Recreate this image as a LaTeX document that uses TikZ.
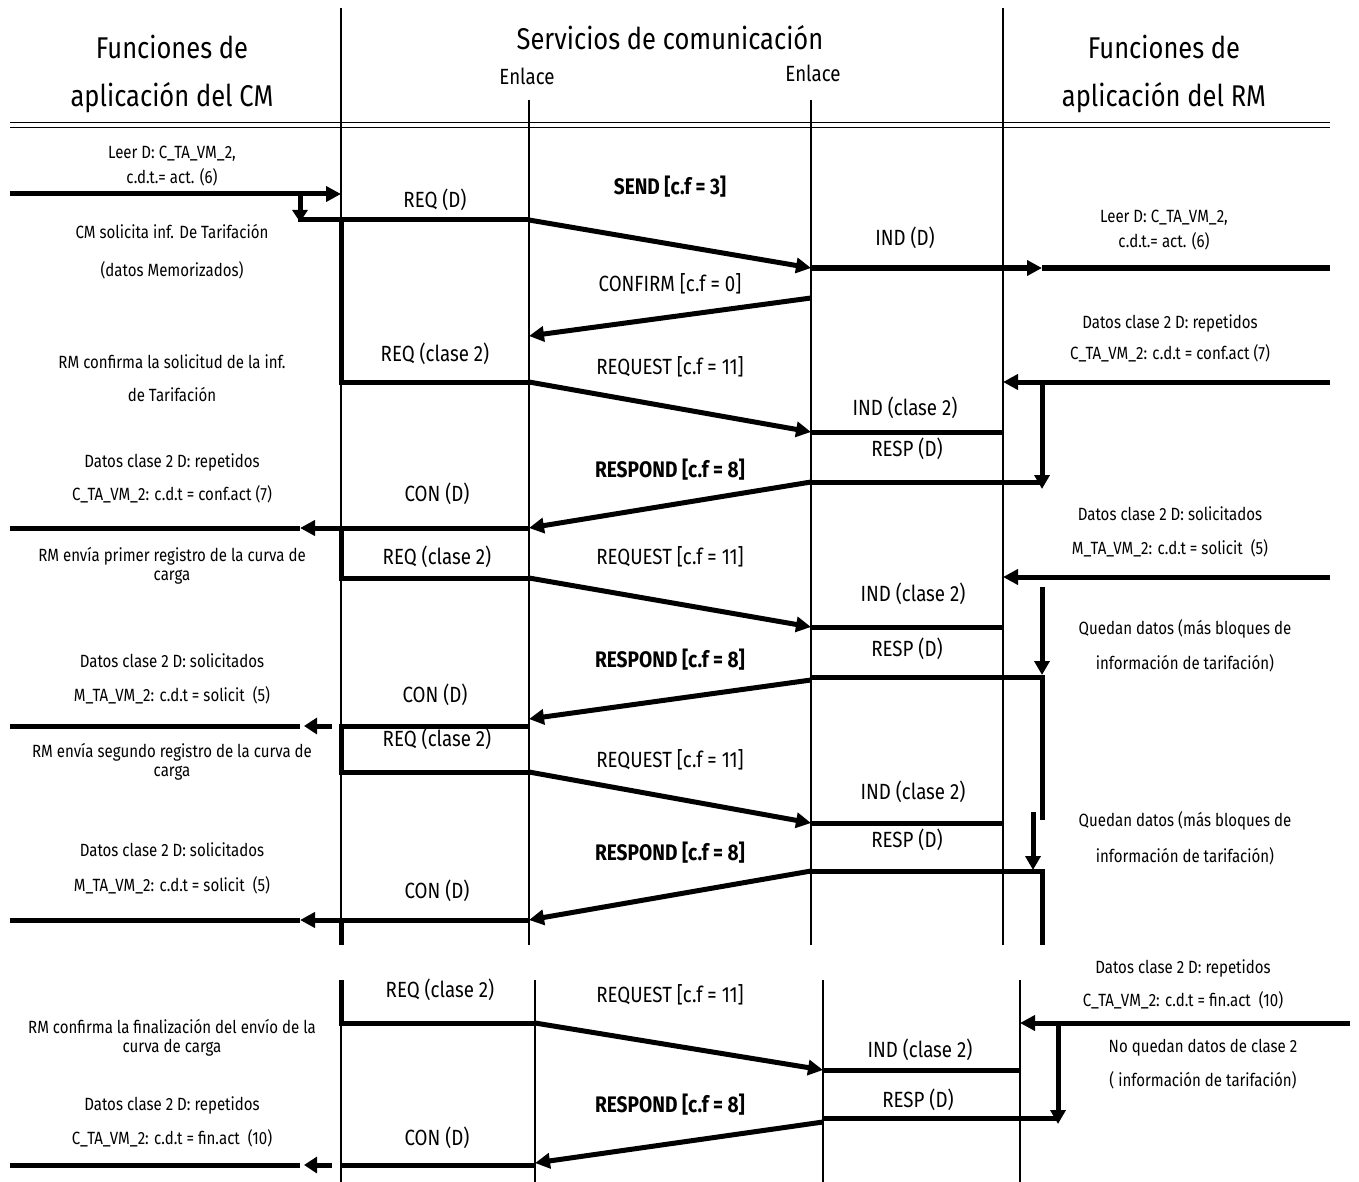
\documentclass[tikz,border=0pt]{standalone}
\usepackage{fontspec}
\setmainfont{Fira Sans}[FakeStretch=0.85]
\usetikzlibrary{arrows.meta}
\begin{document}
\begin{tikzpicture}[x=1pt,y=-1pt,
  thinline/.style={line width=1.5pt},
  bigline/.style={line width=5pt},
  arr/.style={bigline,-{Triangle[length=15pt,width=15pt]}},
  sarr/.style={bigline,-{Triangle[length=13pt,width=16pt]}},
  lab/.style={inner sep=0pt,font=\fontsize{22}{26}\selectfont},
  blab/.style={inner sep=0pt,font=\fontsize{22.5}{26}\selectfont\bfseries},
  txt/.style={inner sep=0pt,font=\fontsize{17.7}{21}\selectfont},
  head/.style={inner sep=0pt,font=\fontsize{30}{36}\selectfont}]
\useasboundingbox (0,0) rectangle (1359,1182);
% ---------- frame ----------
\coordinate (vLt) at (341,8);   \coordinate (vLb) at (341,945);
\coordinate (vRt) at (1003,8);  \coordinate (vRb) at (1003,945);
\coordinate (e1t) at (529,100); \coordinate (e1b) at (529,945);
\coordinate (e2t) at (811,100); \coordinate (e2b) at (811,945);
\draw[thinline] (vLt) -- (vLb);
\draw[thinline] (vRt) -- (vRb);
\draw[thinline] (e1t) -- (e1b);
\draw[thinline] (e2t) -- (e2b);
\coordinate (d1a) at (10,122.5); \coordinate (d1b) at (1330,122.5);
\coordinate (d2a) at (10,127.5); \coordinate (d2b) at (1330,127.5);
\draw[line width=1.5pt] (d1a) -- (d1b);
\draw[line width=1.5pt] (d2a) -- (d2b);
% bottom frame
\coordinate (bLt) at (341,980);  \coordinate (bLb) at (341,1182);
\coordinate (b1t) at (535,980);  \coordinate (b1b) at (535,1182);
\coordinate (b2t) at (823,980);  \coordinate (b2b) at (823,1182);
\coordinate (bRt) at (1020,980); \coordinate (bRb) at (1020,1182);
\draw[thinline] (bLt) -- (bLb);
\draw[thinline] (b1t) -- (b1b);
\draw[thinline] (b2t) -- (b2b);
\draw[thinline] (bRt) -- (bRb);
% ---------- headers ----------
\node[head] (h1) at (172,47) {Funciones de};
\node[head] (h2) at (172,98) {aplicación del CM};
\node[head] (h3) at (670,38) {Servicios de comunicación};
\node[lab]  (h4) at (527,76) {Enlace};
\node[lab]  (h5) at (813,73) {Enlace};
\node[head] (h6) at (1164,47) {Funciones de};
\node[head] (h7) at (1164,98) {aplicación del RM};
% ---------- row 1 ----------
\coordinate (r1a) at (10,194);   \coordinate (r1b) at (341,194);
\draw[arr] (r1a) -- (r1b);
\coordinate (r1c) at (300,192);  \coordinate (r1d) at (300,222);
\draw[bigline,-{Triangle[length=12pt,width=15pt]}] (r1c) -- (r1d);
\coordinate (q1a) at (298,220);  \coordinate (q1b) at (529,220);
\draw[bigline] (q1a) -- (q1b);
\coordinate (k1a) at (341,220);  \coordinate (k1b) at (341,382);
\draw[bigline] (k1a) -- (k1b);
\coordinate (s1b) at (811,268);
\draw[arr] (q1b) -- (s1b);
\coordinate (i1b) at (1042,268); \coordinate (i1c) at (1330,268);
\draw[arr] (s1b) -- (i1b);
\draw[bigline] (i1b) -- (i1c);
\coordinate (c1a) at (811,298);  \coordinate (c1b) at (529,336);
\draw[arr] (c1a) -- (c1b);
% ---------- row 2 ----------
\coordinate (q2a) at (338.5,382); \coordinate (q2b) at (529,382);
\draw[bigline] (q2a) -- (q2b);
\coordinate (s2b) at (811,432);
\draw[arr] (q2b) -- (s2b);
\coordinate (p2a) at (1330,382); \coordinate (p2b) at (1003,382);
\draw[arr] (p2a) -- (p2b);
\coordinate (dn2a) at (1042,382); \coordinate (dn2b) at (1042,489);
\draw[bigline,-{Triangle[length=14pt,width=15pt]}] (dn2a) -- (dn2b);
\coordinate (n2a) at (811,432); \coordinate (n2b) at (1003,432);
\draw[bigline] (n2a) -- (n2b);
\coordinate (rs2a) at (811,482); \coordinate (rs2b) at (1042,482);
\draw[bigline] (rs2a) -- (rs2b);
\coordinate (c2b) at (529,528);
\draw[arr] (rs2a) -- (c2b);
\coordinate (o2b) at (300,528); \coordinate (o2c) at (10,528);
\draw[arr] (c2b) -- (o2b);
\draw[bigline] (o2b) -- (o2c);
% ---------- row 3 ----------
\coordinate (k3a) at (341,528);  \coordinate (k3b) at (341,578);
\draw[bigline] (k3a) -- (k3b);
\coordinate (q3a) at (338.5,578); \coordinate (q3b) at (529,578);
\draw[bigline] (q3a) -- (q3b);
\coordinate (s3b) at (811,627);
\draw[arr] (q3b) -- (s3b);
\coordinate (p3a) at (1330,577); \coordinate (p3b) at (1003,577);
\draw[arr] (p3a) -- (p3b);
\coordinate (dn3a) at (1042,587); \coordinate (dn3b) at (1042,675);
\draw[bigline,-{Triangle[length=14pt,width=15pt]}] (dn3a) -- (dn3b);
\coordinate (n3a) at (811,627); \coordinate (n3b) at (1003,627);
\draw[bigline] (n3a) -- (n3b);
\coordinate (rs3a) at (811,677); \coordinate (rs3b) at (1044.5,677);
\draw[bigline] (rs3a) -- (rs3b);
\coordinate (v3a) at (1042,675); \coordinate (v3b) at (1042,820);
\draw[bigline] (v3a) -- (v3b);
\coordinate (c3a) at (811,680); \coordinate (c3b) at (529,719);
\draw[arr] (c3a) -- (c3b);
\coordinate (o3a) at (529,726); \coordinate (o3b) at (338.5,726);
\draw[bigline] (o3a) -- (o3b);
\coordinate (o3c) at (332,726); \coordinate (o3d) at (304,726);
\draw[sarr] (o3c) -- (o3d);
\coordinate (o3e) at (300,726); \coordinate (o3f) at (10,726);
\draw[bigline] (o3e) -- (o3f);
% ---------- row 4 ----------
\coordinate (k4a) at (341,726);  \coordinate (k4b) at (341,772);
\draw[bigline] (k4a) -- (k4b);
\coordinate (q4a) at (338.5,772); \coordinate (q4b) at (529,772);
\draw[bigline] (q4a) -- (q4b);
\coordinate (s4b) at (811,823);
\draw[arr] (q4b) -- (s4b);
\coordinate (n4a) at (811,823); \coordinate (n4b) at (1003,823);
\draw[bigline] (n4a) -- (n4b);
\coordinate (dn4a) at (1033,812); \coordinate (dn4b) at (1033,870);
\draw[bigline,-{Triangle[length=14pt,width=15pt]}] (dn4a) -- (dn4b);
\coordinate (rs4a) at (811,871); \coordinate (rs4b) at (1044.5,871);
\draw[bigline] (rs4a) -- (rs4b);
\coordinate (v4a) at (1042,869); \coordinate (v4b) at (1042,945);
\draw[bigline] (v4a) -- (v4b);
\coordinate (c4b) at (529,920);
\draw[arr] (rs4a) -- (c4b);
\coordinate (o4b) at (300,920); \coordinate (o4c) at (10,920);
\draw[arr] (c4b) -- (o4b);
\draw[bigline] (o4b) -- (o4c);
\coordinate (k4c) at (341,920); \coordinate (k4d) at (341,945);
\draw[bigline] (k4c) -- (k4d);
% ---------- bottom section ----------
\coordinate (k5a) at (341,980);  \coordinate (k5b) at (341,1023);
\draw[bigline] (k5a) -- (k5b);
\coordinate (q5a) at (338.5,1023); \coordinate (q5b) at (535,1023);
\draw[bigline] (q5a) -- (q5b);
\coordinate (s5b) at (823,1070);
\draw[arr] (q5b) -- (s5b);
\coordinate (n5a) at (823,1070); \coordinate (n5b) at (1020,1070);
\draw[bigline] (n5a) -- (n5b);
\coordinate (p5a) at (1350,1023); \coordinate (p5b) at (1020,1023);
\draw[arr] (p5a) -- (p5b);
\coordinate (dn5a) at (1058,1023); \coordinate (dn5b) at (1058,1124);
\draw[bigline,-{Triangle[length=14pt,width=15pt]}] (dn5a) -- (dn5b);
\coordinate (rs5a) at (823,1118); \coordinate (rs5b) at (1056,1118);
\draw[bigline] (rs5a) -- (rs5b);
\coordinate (c5a) at (823,1122); \coordinate (c5b) at (535,1163);
\draw[arr] (c5a) -- (c5b);
\coordinate (o5a) at (535,1165); \coordinate (o5b) at (341,1165);
\draw[bigline] (o5a) -- (o5b);
\coordinate (o5c) at (332,1165); \coordinate (o5d) at (304,1165);
\draw[sarr] (o5c) -- (o5d);
\coordinate (o5e) at (300,1165); \coordinate (o5f) at (10,1165);
\draw[bigline] (o5e) -- (o5f);
% ---------- middle labels ----------
\node[lab]  (m1)  at (435,200)  {REQ (D)};
\node[blab] (m2)  at (670,187)  {SEND [c.f = 3]};
\node[lab]  (m3)  at (905,238)  {IND (D)};
\node[lab]  (m4)  at (670,284)  {CONFIRM [c.f = 0]};
\node[lab]  (m5)  at (435,354)  {REQ (clase 2)};
\node[lab]  (m6)  at (670,367)  {REQUEST [c.f = 11]};
\node[lab]  (m7)  at (905,408)  {IND (clase 2)};
\node[lab]  (m8)  at (907,449)  {RESP (D)};
\node[blab] (m9)  at (670,470)  {RESPOND [c.f = 8]};
\node[lab]  (m10) at (437,494)  {CON (D)};
\node[lab]  (m11) at (437,557)  {REQ (clase 2)};
\node[lab]  (m12) at (670,557)  {REQUEST [c.f = 11]};
\node[lab]  (m13) at (913,594)  {IND (clase 2)};
\node[lab]  (m14) at (907,649)  {RESP (D)};
\node[blab] (m15) at (670,660)  {RESPOND [c.f = 8]};
\node[lab]  (m16) at (435,695)  {CON (D)};
\node[lab]  (m17) at (437,739)  {REQ (clase 2)};
\node[lab]  (m18) at (670,760)  {REQUEST [c.f = 11]};
\node[lab]  (m19) at (913,792)  {IND (clase 2)};
\node[lab]  (m20) at (907,840)  {RESP (D)};
\node[blab] (m21) at (670,853)  {RESPOND [c.f = 8]};
\node[lab]  (m22) at (437,891)  {CON (D)};
\node[lab]  (m23) at (440,990)  {REQ (clase 2)};
\node[lab]  (m24) at (670,995)  {REQUEST [c.f = 11]};
\node[lab]  (m25) at (920,1050) {IND (clase 2)};
\node[lab]  (m26) at (918,1100) {RESP (D)};
\node[blab] (m27) at (670,1105) {RESPOND [c.f = 8]};
\node[lab]  (m28) at (437,1138) {CON (D)};
% ---------- left texts ----------
\node[txt] (l1)  at (172,154)  {Leer D: C\_TA\_VM\_2,};
\node[txt] (l2)  at (172,177)  {c.d.t.= act. (6)};
\node[txt] (l3)  at (172,232)  {CM solicita inf. De Tarifación};
\node[txt] (l4)  at (172,270)  {(datos Memorizados)};
\node[txt] (l5)  at (172,362)  {RM confirma la solicitud de la inf.};
\node[txt] (l6)  at (172,395)  {de Tarifación};
\node[txt] (l7)  at (172,462)  {Datos clase 2 D: repetidos};
\node[txt] (l8)  at (172,494)  {C\_TA\_VM\_2: c.d.t = conf.act (7)};
\node[txt] (l9)  at (172,556)  {RM envía primer registro de la curva de};
\node[txt] (l10) at (172,577)  {carga};
\node[txt] (l11) at (172,661)  {Datos clase 2 D: solicitados};
\node[txt] (l12) at (172,695)  {M\_TA\_VM\_2: c.d.t = solicit~ (5)};
\node[txt] (l13) at (172,752)  {RM envía segundo registro de la curva de};
\node[txt] (l14) at (172,773)  {carga};
\node[txt] (l15) at (172,850)  {Datos clase 2 D: solicitados};
\node[txt] (l16) at (172,885)  {M\_TA\_VM\_2: c.d.t = solicit~ (5)};
\node[txt] (l17) at (172,1027) {RM confirma la finalización del envío de la};
\node[txt] (l18) at (172,1048) {curva de carga};
\node[txt] (l19) at (172,1105) {Datos clase 2 D: repetidos};
\node[txt] (l20) at (172,1138) {C\_TA\_VM\_2: c.d.t = fin.act~ (10)};
% ---------- right texts ----------
\node[txt] (t1)  at (1164,218)  {Leer D: C\_TA\_VM\_2,};
\node[txt] (t2)  at (1164,241)  {c.d.t.= act. (6)};
\node[txt] (t3)  at (1170,323)  {Datos clase 2 D: repetidos};
\node[txt] (t4)  at (1170,353)  {C\_TA\_VM\_2: c.d.t = conf.act (7)};
\node[txt] (t5)  at (1170,514)  {Datos clase 2 D: solicitados};
\node[txt] (t6)  at (1170,548)  {M\_TA\_VM\_2: c.d.t = solicit~ (5)};
\node[txt] (t7)  at (1185,629)  {Quedan datos (más bloques de};
\node[txt] (t8)  at (1185,663)  {información de tarifación)};
\node[txt] (t9)  at (1185,821)  {Quedan datos (más bloques de};
\node[txt] (t10) at (1185,856)  {información de tarifación)};
\node[txt] (t11) at (1183,968)  {Datos clase 2 D: repetidos};
\node[txt] (t12) at (1183,1000) {C\_TA\_VM\_2: c.d.t = fin.act~ (10)};
\node[txt] (t13) at (1203,1048) {No quedan datos de clase 2};
\node[txt] (t14) at (1203,1080) {( información de tarifación)};
\end{tikzpicture}
\end{document}
